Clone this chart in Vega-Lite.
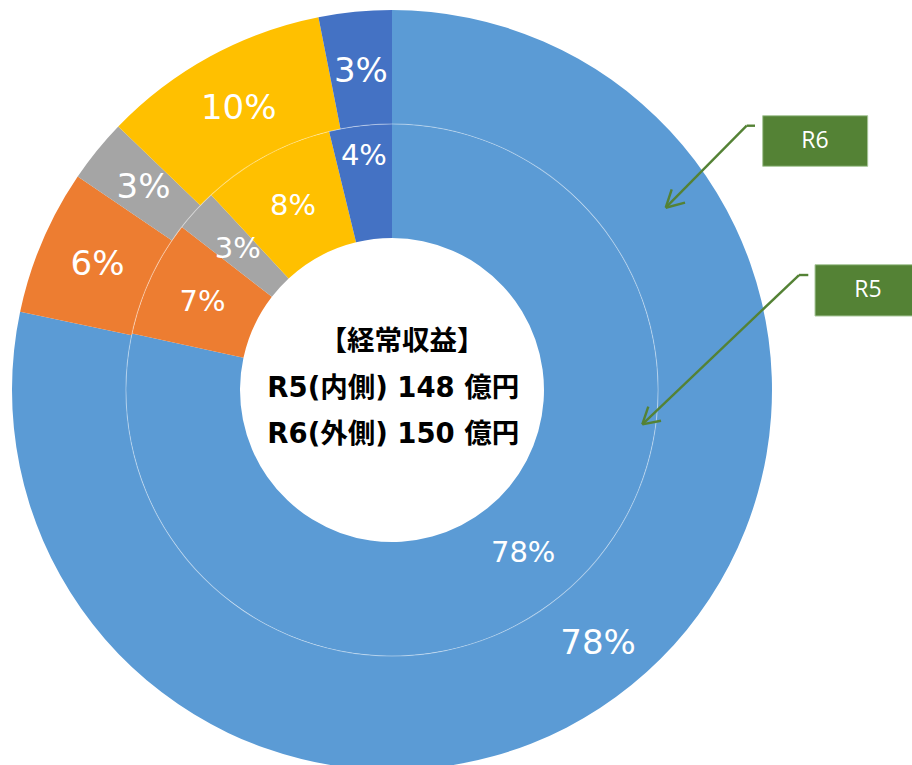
{
  "$schema": "https://vega.github.io/schema/vega-lite/v6.json",
  "width": 912,
  "height": 765,
  "autosize": "none",
  "padding": 0,
  "background": "white",
  "config": {"view": {"stroke": null}},
  "datasets": {
    "r6": [
      {"item": "項目A", "no": 1, "share": 0.783},
      {"item": "項目B", "no": 2, "share": 0.062},
      {"item": "項目C", "no": 3, "share": 0.027},
      {"item": "項目D", "no": 4, "share": 0.097},
      {"item": "項目E", "no": 5, "share": 0.031}
    ],
    "r5": [
      {"item": "項目A", "no": 1, "share": 0.784},
      {"item": "項目B", "no": 2, "share": 0.071},
      {"item": "項目C", "no": 3, "share": 0.026},
      {"item": "項目D", "no": 4, "share": 0.081},
      {"item": "項目E", "no": 5, "share": 0.038}
    ]
  },
  "layer": [
    {
      "data": {"name": "r6"},
      "mark": {"type": "arc", "radius": 380, "radius2": 266},
      "encoding": {
        "x": {"datum": 0, "type": "quantitative", "scale": {"domain": [-1.031579, 1.368421], "nice": false, "zero": false}, "axis": null},
        "y": {"datum": 0, "type": "quantitative", "scale": {"domain": [-0.986842, 1.026316], "nice": false, "zero": false}, "axis": null},
        "theta": {"field": "share", "type": "quantitative", "stack": true},
        "order": {"field": "no", "type": "quantitative"},
        "color": {"field": "item", "type": "nominal", "legend": null,
          "scale": {"domain": ["項目A", "項目B", "項目C", "項目D", "項目E"], "range": ["#5B9BD5", "#ED7D31", "#A5A5A5", "#FFC000", "#4472C4"]}}
      }
    },
    {
      "data": {"name": "r5"},
      "mark": {"type": "arc", "radius": 266, "radius2": 152},
      "encoding": {
        "x": {"datum": 0, "type": "quantitative", "scale": {"domain": [-1.031579, 1.368421], "nice": false, "zero": false}, "axis": null},
        "y": {"datum": 0, "type": "quantitative", "scale": {"domain": [-0.986842, 1.026316], "nice": false, "zero": false}, "axis": null},
        "theta": {"field": "share", "type": "quantitative", "stack": true},
        "order": {"field": "no", "type": "quantitative"},
        "color": {"field": "item", "type": "nominal", "legend": null,
          "scale": {"domain": ["項目A", "項目B", "項目C", "項目D", "項目E"], "range": ["#5B9BD5", "#ED7D31", "#A5A5A5", "#FFC000", "#4472C4"]}}
      }
    },
    {
      "data": {"values": [{}]},
      "mark": {"type": "arc", "radius": 266.6, "radius2": 265.6, "theta": 0, "theta2": 6.2832, "fill": "white", "opacity": 0.4},
      "encoding": {
        "x": {"datum": 0, "type": "quantitative", "scale": {"domain": [-1.031579, 1.368421], "nice": false, "zero": false}, "axis": null},
        "y": {"datum": 0, "type": "quantitative", "scale": {"domain": [-0.986842, 1.026316], "nice": false, "zero": false}, "axis": null}
      }
    },
    {
      "data": {"name": "r6"},
      "mark": {"type": "text", "radius": {"expr": "datum.item === '項目A' ? 327 : 320"}, "fill": "white", "font": "DejaVu Sans", "fontSize": 34, "align": "center", "baseline": "middle"},
      "encoding": {
        "x": {"datum": 0, "type": "quantitative", "scale": {"domain": [-1.031579, 1.368421], "nice": false, "zero": false}, "axis": null},
        "y": {"datum": 0, "type": "quantitative", "scale": {"domain": [-0.986842, 1.026316], "nice": false, "zero": false}, "axis": null},
        "theta": {"field": "share", "type": "quantitative", "stack": true},
        "order": {"field": "no", "type": "quantitative"},
        "detail": {"field": "item", "type": "nominal"},
        "text": {"field": "share", "type": "quantitative", "format": ".0%"}
      }
    },
    {
      "data": {"name": "r5"},
      "mark": {"type": "text", "radius": {"expr": "datum.item === '項目E' ? 236 : 209"}, "fill": "white", "font": "DejaVu Sans", "fontSize": 29, "align": "center", "baseline": "middle"},
      "encoding": {
        "x": {"datum": 0, "type": "quantitative", "scale": {"domain": [-1.031579, 1.368421], "nice": false, "zero": false}, "axis": null},
        "y": {"datum": 0, "type": "quantitative", "scale": {"domain": [-0.986842, 1.026316], "nice": false, "zero": false}, "axis": null},
        "theta": {"field": "share", "type": "quantitative", "stack": true},
        "order": {"field": "no", "type": "quantitative"},
        "detail": {"field": "item", "type": "nominal"},
        "text": {"field": "share", "type": "quantitative", "format": ".0%"}
      }
    },
    {
      "data": {"values": [{}]},
      "mark": {"type": "text", "font": "DejaVu Sans, Noto Sans CJK JP", "fontWeight": "bold", "fontSize": 27.5, "fill": "black", "align": "center", "baseline": "middle"},
      "encoding": {
        "x": {"datum": 0.0263, "type": "quantitative", "scale": {"domain": [-1.031579, 1.368421], "nice": false, "zero": false}, "axis": null},
        "y": {"datum": 0.1271, "type": "quantitative", "scale": {"domain": [-0.986842, 1.026316], "nice": false, "zero": false}, "axis": null},
        "text": {"value": "【経常収益】"}
      }
    },
    {
      "data": {"values": [{}]},
      "mark": {"type": "text", "font": "DejaVu Sans, Noto Sans CJK JP", "fontWeight": "bold", "fontSize": 27.5, "fill": "black", "align": "center", "baseline": "middle"},
      "encoding": {
        "x": {"datum": 0.0035, "type": "quantitative", "scale": {"domain": [-1.031579, 1.368421], "nice": false, "zero": false}, "axis": null},
        "y": {"datum": 0.0026, "type": "quantitative", "scale": {"domain": [-0.986842, 1.026316], "nice": false, "zero": false}, "axis": null},
        "text": {"value": "R5(内側) 148 億円"}
      }
    },
    {
      "data": {"values": [{}]},
      "mark": {"type": "text", "font": "DejaVu Sans, Noto Sans CJK JP", "fontWeight": "bold", "fontSize": 27.5, "fill": "black", "align": "center", "baseline": "middle"},
      "encoding": {
        "x": {"datum": 0.0035, "type": "quantitative", "scale": {"domain": [-1.031579, 1.368421], "nice": false, "zero": false}, "axis": null},
        "y": {"datum": -0.1184, "type": "quantitative", "scale": {"domain": [-0.986842, 1.026316], "nice": false, "zero": false}, "axis": null},
        "text": {"value": "R6(外側) 150 億円"}
      }
    },
    {
      "data": {"values": [{}]},
      "mark": {"type": "rect", "fill": "#548235", "stroke": "#A9C79A", "strokeWidth": 1},
      "encoding": {
        "x": {"datum": 0.9755, "type": "quantitative", "scale": {"domain": [-1.031579, 1.368421], "nice": false, "zero": false}, "axis": null},
        "x2": {"datum": 1.2518},
        "y": {"datum": 0.7218, "type": "quantitative", "scale": {"domain": [-0.986842, 1.026316], "nice": false, "zero": false}, "axis": null},
        "y2": {"datum": 0.5887}
      }
    },
    {
      "data": {"values": [{}]},
      "mark": {"type": "text", "fill": "white", "font": "Open Sans", "fontSize": 23, "align": "center", "baseline": "middle"},
      "encoding": {
        "x": {"datum": 1.1132, "type": "quantitative", "scale": {"domain": [-1.031579, 1.368421], "nice": false, "zero": false}, "axis": null},
        "y": {"datum": 0.6553, "type": "quantitative", "scale": {"domain": [-0.986842, 1.026316], "nice": false, "zero": false}, "axis": null},
        "text": {"value": "R6"}
      }
    },
    {
      "data": {"values": [{}]},
      "mark": {"type": "rect", "fill": "#548235", "stroke": "#A9C79A", "strokeWidth": 1},
      "encoding": {
        "x": {"datum": 1.1132, "type": "quantitative", "scale": {"domain": [-1.031579, 1.368421], "nice": false, "zero": false}, "axis": null},
        "x2": {"datum": 1.3921},
        "y": {"datum": 0.3297, "type": "quantitative", "scale": {"domain": [-0.986842, 1.026316], "nice": false, "zero": false}, "axis": null},
        "y2": {"datum": 0.1947}
      }
    },
    {
      "data": {"values": [{}]},
      "mark": {"type": "text", "fill": "white", "font": "Open Sans", "fontSize": 23, "align": "center", "baseline": "middle"},
      "encoding": {
        "x": {"datum": 1.2526, "type": "quantitative", "scale": {"domain": [-1.031579, 1.368421], "nice": false, "zero": false}, "axis": null},
        "y": {"datum": 0.2624, "type": "quantitative", "scale": {"domain": [-0.986842, 1.026316], "nice": false, "zero": false}, "axis": null},
        "text": {"value": "R5"}
      }
    },
    {
      "data": {"values": [{}]},
      "mark": {"type": "rule", "stroke": "#548235", "strokeWidth": 2.4},
      "encoding": {
        "x": {"datum": 0.9553, "type": "quantitative", "scale": {"domain": [-1.031579, 1.368421], "nice": false, "zero": false}, "axis": null},
        "y": {"datum": 0.6955, "type": "quantitative", "scale": {"domain": [-0.986842, 1.026316], "nice": false, "zero": false}, "axis": null},
        "x2": {"datum": 0.9334},
        "y2": {"datum": 0.6955}
      }
    },
    {
      "data": {"values": [{}]},
      "mark": {"type": "rule", "stroke": "#548235", "strokeWidth": 2.4},
      "encoding": {
        "x": {"datum": 0.9334, "type": "quantitative", "scale": {"domain": [-1.031579, 1.368421], "nice": false, "zero": false}, "axis": null},
        "y": {"datum": 0.6955, "type": "quantitative", "scale": {"domain": [-0.986842, 1.026316], "nice": false, "zero": false}, "axis": null},
        "x2": {"datum": 0.7203},
        "y2": {"datum": 0.4797}
      }
    },
    {
      "data": {"values": [{}]},
      "mark": {"type": "rule", "stroke": "#548235", "strokeWidth": 2.4},
      "encoding": {
        "x": {"datum": 0.7203, "type": "quantitative", "scale": {"domain": [-1.031579, 1.368421], "nice": false, "zero": false}, "axis": null},
        "y": {"datum": 0.4797, "type": "quantitative", "scale": {"domain": [-0.986842, 1.026316], "nice": false, "zero": false}, "axis": null},
        "x2": {"datum": 0.7361},
        "y2": {"datum": 0.5282}
      }
    },
    {
      "data": {"values": [{}]},
      "mark": {"type": "rule", "stroke": "#548235", "strokeWidth": 2.4},
      "encoding": {
        "x": {"datum": 0.7203, "type": "quantitative", "scale": {"domain": [-1.031579, 1.368421], "nice": false, "zero": false}, "axis": null},
        "y": {"datum": 0.4797, "type": "quantitative", "scale": {"domain": [-0.986842, 1.026316], "nice": false, "zero": false}, "axis": null},
        "x2": {"datum": 0.7711},
        "y2": {"datum": 0.4929}
      }
    },
    {
      "data": {"values": [{}]},
      "mark": {"type": "rule", "stroke": "#548235", "strokeWidth": 2.4},
      "encoding": {
        "x": {"datum": 1.0955, "type": "quantitative", "scale": {"domain": [-1.031579, 1.368421], "nice": false, "zero": false}, "axis": null},
        "y": {"datum": 0.3026, "type": "quantitative", "scale": {"domain": [-0.986842, 1.026316], "nice": false, "zero": false}, "axis": null},
        "x2": {"datum": 1.0711},
        "y2": {"datum": 0.3026}
      }
    },
    {
      "data": {"values": [{}]},
      "mark": {"type": "rule", "stroke": "#548235", "strokeWidth": 2.4},
      "encoding": {
        "x": {"datum": 1.0711, "type": "quantitative", "scale": {"domain": [-1.031579, 1.368421], "nice": false, "zero": false}, "axis": null},
        "y": {"datum": 0.3026, "type": "quantitative", "scale": {"domain": [-0.986842, 1.026316], "nice": false, "zero": false}, "axis": null},
        "x2": {"datum": 0.6587},
        "y2": {"datum": -0.0903}
      }
    },
    {
      "data": {"values": [{}]},
      "mark": {"type": "rule", "stroke": "#548235", "strokeWidth": 2.4},
      "encoding": {
        "x": {"datum": 0.6587, "type": "quantitative", "scale": {"domain": [-1.031579, 1.368421], "nice": false, "zero": false}, "axis": null},
        "y": {"datum": -0.0903, "type": "quantitative", "scale": {"domain": [-0.986842, 1.026316], "nice": false, "zero": false}, "axis": null},
        "x2": {"datum": 0.6745},
        "y2": {"datum": -0.0439}
      }
    },
    {
      "data": {"values": [{}]},
      "mark": {"type": "rule", "stroke": "#548235", "strokeWidth": 2.4},
      "encoding": {
        "x": {"datum": 0.6587, "type": "quantitative", "scale": {"domain": [-1.031579, 1.368421], "nice": false, "zero": false}, "axis": null},
        "y": {"datum": -0.0903, "type": "quantitative", "scale": {"domain": [-0.986842, 1.026316], "nice": false, "zero": false}, "axis": null},
        "x2": {"datum": 0.7079},
        "y2": {"datum": -0.0808}
      }
    }
  ]
}
